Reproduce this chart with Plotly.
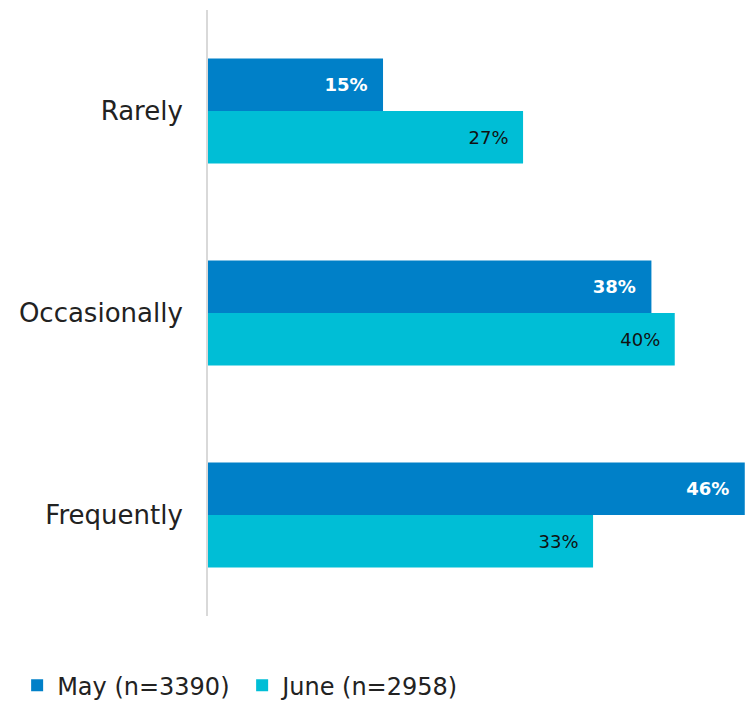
import plotly.graph_objects as go

categories = ["Rarely", "Occasionally", "Frequently"]
may_values = [15, 38, 46]
june_values = [27, 40, 33]
series_names = ["May (n=3390)\u00a0", "June (n=2958)"]

FONT = "DejaVu Sans"
MAY_COLOR = "#0080C8"
JUNE_COLOR = "#00BED6"
PAD = "\u00a0\u00a0"  # keeps the value labels off the bar ends

fig = go.Figure()
fig.add_trace(go.Bar(
    y=categories, x=may_values, orientation="h", name=series_names[0],
    marker=dict(color=MAY_COLOR, line=dict(width=0)),
    text=[f"{v}%{PAD}" for v in may_values], textposition="inside",
    insidetextanchor="end",
    textfont=dict(family=FONT, size=18, color="white", weight="bold"),
))
fig.add_trace(go.Bar(
    y=categories, x=june_values, orientation="h", name=series_names[1],
    marker=dict(color=JUNE_COLOR, line=dict(width=0)),
    text=[f"{v}%{PAD}" for v in june_values], textposition="inside",
    insidetextanchor="end",
    textfont=dict(family=FONT, size=18, color="#111111"),
))

fig.update_layout(
    width=745, height=701,
    margin=dict(l=208, r=0, t=10, b=85),
    paper_bgcolor="white", plot_bgcolor="white",
    barmode="group", bargap=0.48, bargroupgap=0,
    font=dict(family=FONT, size=24, color="#222222"),
    showlegend=True,
    legend=dict(
        orientation="h", xref="container", yref="container",
        x=0.023, y=0.022, xanchor="left", yanchor="middle",
        font=dict(family=FONT, size=24, color="#222222"),
        itemwidth=30, traceorder="normal",
    ),
    uniformtext=dict(mode=False),
)
fig.update_xaxes(range=[0, 46.02], showgrid=False, zeroline=False,
                 showticklabels=False, showline=False)
fig.update_yaxes(autorange="reversed", showgrid=False, zeroline=False,
                 showline=True, linecolor="#d9d9d9", linewidth=2,
                 ticks="", ticklabelstandoff=18,
                 tickfont=dict(family=FONT, size=26, color="#222222"))

fig.write_html("out.html")
